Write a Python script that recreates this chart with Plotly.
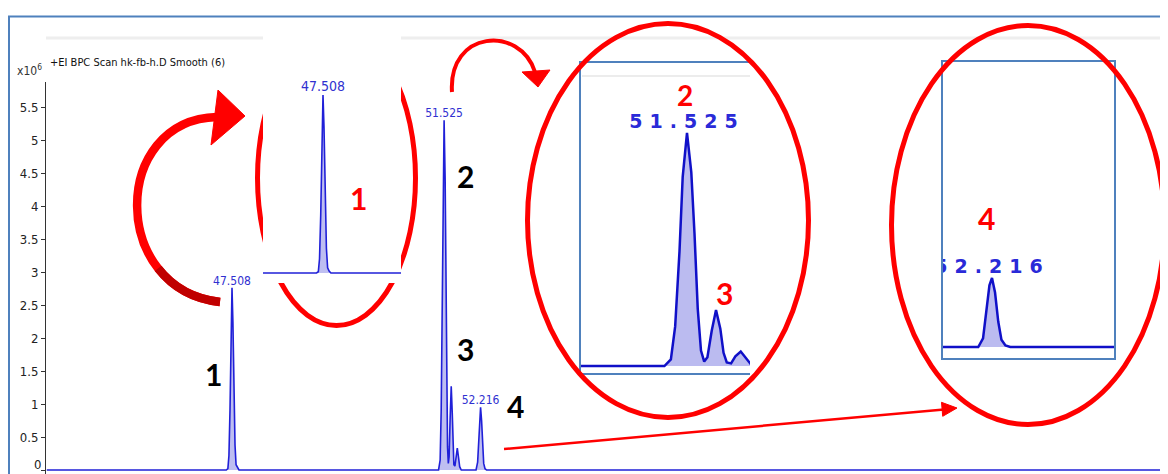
import plotly.graph_objects as go

# ---------------- data ----------------
rt_min = [44.00, 47.40, 47.43, 47.45, 47.47, 47.49, 47.508, 47.525, 47.545, 47.565, 47.585, 47.61, 47.64,
          51.42, 51.45, 51.47, 51.49, 51.505, 51.525, 51.545, 51.56, 51.575, 51.59, 51.605, 51.62, 51.64,
          51.66, 51.68, 51.695, 51.71, 51.73, 51.75, 51.775, 51.80, 51.82, 51.85,
          52.13, 52.16, 52.18, 52.20, 52.216, 52.235, 52.255, 52.275, 52.30, 52.33, 65.30]
abundance_e6 = [0.0, 0.0, 0.02, 0.22, 0.90, 2.05, 2.76, 2.25, 1.15, 0.38, 0.08, 0.03, 0.0,
                0.0, 0.15, 0.90, 2.60, 4.30, 5.30, 4.40, 3.00, 1.30, 0.35, 0.10, 0.20, 0.80,
                1.27, 0.85, 0.30, 0.08, 0.06, 0.22, 0.33, 0.18, 0.05, 0.0,
                0.0, 0.12, 0.45, 0.85, 0.95, 0.75, 0.35, 0.10, 0.02, 0.0, 0.0]

peak_rt = [47.508, 51.525, 52.216]
peak_height = [2.76, 5.30, 0.95]
peak_text = ["47.508", "51.525", "52.216"]

y_ticks = [0, 0.5, 1, 1.5, 2, 2.5, 3, 3.5, 4, 4.5, 5, 5.5]
y_tick_text = ["0", "0.5", "1", "1.5", "2", "2.5", "3", "3.5", "4", "4.5", "5", "5.5"]

peak_numbers = ["1", "2", "3", "4"]
title_text = "+EI BPC Scan hk-fb-h.D Smooth (6)"
y_unit_text = "x10<sup>6</sup>"

# ---------------- layout helpers (screen pixel -> paper) ----------------
# the page body has an 8 px margin, so the figure starts at screen (8, 8)
OFF = 8
W, H = 1160, 466
def px(x):
    return (x - OFF) / W
def py(y):
    return 1 - (y - OFF) / H
def pt(x, y):
    return f"{px(x):.5f},{py(y):.5f}"

NARROW = "Liberation Sans Narrow, DejaVu Sans Condensed, Arial Narrow, sans-serif"
BOLD = "Lato, Open Sans, Liberation Sans, sans-serif"
RED = "#ff0000"
FRAME = "#4f81bd"
LINE_BLUE = "#2020d8"
FILL_BLUE = "rgba(110,110,225,0.45)"

fig = go.Figure()

# main chromatogram
fig.add_trace(go.Scatter(x=rt_min, y=abundance_e6, mode="lines", fill="tozeroy",
                         line=dict(color=LINE_BLUE, width=1.6), fillcolor=FILL_BLUE,
                         xaxis="x", yaxis="y", hoverinfo="skip", showlegend=False))
fig.add_trace(go.Scatter(x=peak_rt, y=peak_height, mode="text", text=peak_text,
                         textposition="top center", cliponaxis=True,
                         textfont=dict(family=NARROW, size=12, color="#3030d0"),
                         xaxis="x", yaxis="y", hoverinfo="skip", showlegend=False))

# inset 1 (peak 1)
fig.add_trace(go.Scatter(x=rt_min, y=abundance_e6, mode="lines", fill="tozeroy",
                         line=dict(color=LINE_BLUE, width=1.6), fillcolor=FILL_BLUE,
                         xaxis="x2", yaxis="y2", hoverinfo="skip", showlegend=False))
fig.add_trace(go.Scatter(x=peak_rt[:1], y=peak_height[:1], mode="text", text=peak_text[:1],
                         textposition="top center", cliponaxis=True,
                         textfont=dict(family=NARROW, size=14, color="#3030d0"),
                         xaxis="x2", yaxis="y2", hoverinfo="skip", showlegend=False))

# inset 2 (peaks 2,3)
fig.add_trace(go.Scatter(x=rt_min, y=abundance_e6, mode="lines", fill="tozeroy",
                         line=dict(color="#1010c8", width=2.5),
                         fillcolor="rgba(120,120,225,0.5)",
                         xaxis="x3", yaxis="y3", hoverinfo="skip", showlegend=False))
fig.add_trace(go.Scatter(x=peak_rt[1:2], y=peak_height[1:2], mode="text",
                         text=['<span style="letter-spacing:7px">' + peak_text[1] + '</span>'],
                         textposition="top center", cliponaxis=True,
                         textfont=dict(family="DejaVu Sans, sans-serif", size=19, color="#2a2ad8",
                                       weight="bold"),
                         xaxis="x3", yaxis="y3", hoverinfo="skip", showlegend=False))

# inset 4 (peak 4)
fig.add_trace(go.Scatter(x=rt_min, y=abundance_e6, mode="lines", fill="tozeroy",
                         line=dict(color="#1010c8", width=2.5),
                         fillcolor="rgba(120,120,225,0.5)",
                         xaxis="x4", yaxis="y4", hoverinfo="skip", showlegend=False))
fig.add_trace(go.Scatter(x=peak_rt[2:3], y=peak_height[2:3], mode="text",
                         text=['<span style="letter-spacing:7px">' + peak_text[2] + '</span>'],
                         textposition="top center", cliponaxis=True,
                         textfont=dict(family="DejaVu Sans, sans-serif", size=19, color="#2a2ad8",
                                       weight="bold"),
                         xaxis="x4", yaxis="y4", hoverinfo="skip", showlegend=False))

# ---------------- axes ----------------
def hidden(**kw):
    d = dict(visible=False, fixedrange=True, showgrid=False, zeroline=False)
    d.update(kw)
    return d

# main: 47.508 at px 232, 52.8 px/min; value 0 at py 470, 66 px per unit
main_l, main_r, main_t, main_b = 46, 1168, 82, 474
x_scale = 52.8
y_scale = 66.0
fig.update_layout(
    xaxis=hidden(domain=[px(main_l), px(main_r)],
                 range=[47.508 - (232 - main_l) / x_scale, 47.508 + (main_r - 232) / x_scale]),
    yaxis=dict(domain=[py(main_b), py(main_t)],
               range=[(470 - main_b) / y_scale, (470 - main_t) / y_scale],
               tickvals=y_ticks, ticktext=y_tick_text, ticks="outside", ticklen=4,
               tickcolor="#333333", showline=True, linecolor="#333333", linewidth=1,
               showgrid=False, zeroline=False, fixedrange=True,
               tickfont=dict(family=NARROW, size=13, color="#222222")),
)

# inset 1: box 263..401 x 38..283; 47.508 at 323, 60 px/min; 0 at 273, 64.5 px/unit
i1 = (263, 38, 401, 283)
fig.update_layout(
    xaxis2=hidden(domain=[px(i1[0]), px(i1[2])], anchor="y2",
                  range=[47.508 - (323 - i1[0]) / 60.0, 47.508 + (i1[2] - 323) / 60.0]),
    yaxis2=hidden(domain=[py(i1[3]), py(i1[1])], anchor="x2",
                  range=[(273 - i1[3]) / 64.5, (273 - i1[1]) / 64.5]),
)
# inset 2: box 580..750 x 62..374; 51.525 at 687, 215 px/min; 0 at 366, 44 px/unit
i2 = (581, 63, 750, 373)
fig.update_layout(
    xaxis3=hidden(domain=[px(i2[0]), px(i2[2])], anchor="y3",
                  range=[51.525 - (687 - i2[0]) / 215.0, 51.525 + (i2[2] - 687) / 215.0]),
    yaxis3=hidden(domain=[py(i2[3]), py(i2[1])], anchor="x3",
                  range=[(366 - i2[3]) / 44.0, (366 - i2[1]) / 44.0]),
)
# inset 4: box 942..1115 x 61..359; 52.216 at 992, 160 px/min; 0 at 347, 72.6 px/unit
i4 = (943, 62, 1114, 358)
fig.update_layout(
    xaxis4=hidden(domain=[px(i4[0]), px(i4[2])], anchor="y4",
                  range=[52.216 - (992 - i4[0]) / 160.0, 52.216 + (i4[2] - 992) / 160.0]),
    yaxis4=hidden(domain=[py(i4[3]), py(i4[1])], anchor="x4",
                  range=[(347 - i4[3]) / 72.6, (347 - i4[1]) / 72.6]),
)

# ---------------- shapes ----------------
shapes = []
def P(d, **kw):
    s = dict(type="path", path=d, xref="paper", yref="paper")
    s.update(kw)
    shapes.append(s)

# below traces: grey top band, ellipse 1, inset-1 white backing
P(f"M {pt(46,38)} L {pt(1168,38)}", line=dict(color="#eeeeee", width=3), layer="below")
shapes.append(dict(type="circle", xref="paper", yref="paper", layer="below",
                   x0=px(257.5), x1=px(415.5), y0=py(30.5), y1=py(325.5),
                   line=dict(color=RED, width=5)))
shapes.append(dict(type="rect", xref="paper", yref="paper", layer="below",
                   x0=px(263), x1=px(401), y0=py(20), y1=py(283),
                   fillcolor="white", line=dict(width=0)))

# outer frame
shapes.append(dict(type="rect", xref="paper", yref="paper", layer="above",
                   x0=px(9), x1=px(1190), y0=py(16.5), y1=py(500),
                   line=dict(color=FRAME, width=2)))

# inset borders
P(f"M {pt(750,62)} L {pt(580,62)} L {pt(580,374)} L {pt(750,374)}",
  line=dict(color=FRAME, width=2), layer="above")
P(f"M {pt(582,76)} L {pt(750,76)}", line=dict(color="#ececec", width=2), layer="above")
shapes.append(dict(type="rect", xref="paper", yref="paper", layer="above",
                   x0=px(942), x1=px(1115), y0=py(61), y1=py(359),
                   line=dict(color=FRAME, width=2)))

# ellipses 2 and 4
shapes.append(dict(type="circle", xref="paper", yref="paper", layer="above",
                   x0=px(527.5), x1=px(808.5), y0=py(23.5), y1=py(417.5),
                   line=dict(color=RED, width=5)))
shapes.append(dict(type="circle", xref="paper", yref="paper", layer="above",
                   x0=px(891.5), x1=px(1164.5), y0=py(25.5), y1=py(424.5),
                   line=dict(color=RED, width=5)))

# big curved arrow
P(f"M {pt(220,302)} C {pt(110,290)} {pt(110,120)} {pt(217,117)}",
  line=dict(color=RED, width=8.5), layer="above")
P(f"M {pt(158.1,268.4)} C {pt(171.9,286.1)} {pt(192.5,299)} {pt(220,302)}",
  line=dict(color="#c00000", width=8.5), layer="above")
P(f"M {pt(218,90)} L {pt(245,116)} L {pt(211,145)} Z",
  fillcolor=RED, line=dict(color=RED, width=1), layer="above")

# small curved arrow
P(f"M {pt(452,92)} C {pt(448,30)} {pt(520,25)} {pt(535,72)}",
  line=dict(color=RED, width=4), layer="above")
P(f"M {pt(522,72)} L {pt(550,70)} L {pt(538,87)} Z",
  fillcolor=RED, line=dict(color=RED, width=1), layer="above")

# long thin arrow
P(f"M {pt(504,449)} L {pt(944,409.5)}", line=dict(color=RED, width=2.5), layer="above")
P(f"M {pt(941.5,402.3)} L {pt(957,408)} L {pt(942.7,416.3)} Z",
  fillcolor=RED, line=dict(color=RED, width=1), layer="above")

# ---------------- annotations ----------------
ann = []
def A(text, x, y, size, color, family, weight="normal", xanchor="center", yanchor="middle"):
    ann.append(dict(text=text, x=px(x), y=py(y), xref="paper", yref="paper",
                    showarrow=False, xanchor=xanchor, yanchor=yanchor,
                    font=dict(family=family, size=size, color=color, weight=weight)))

A(title_text, 48, 62, 11, "#111111", NARROW, xanchor="left")
A(y_unit_text, 29, 70, 12, "#333333", NARROW)
# the zero tick label sits at the very bottom edge (partly cut in the source image)
A(y_tick_text[0], 43, 474, 13, "#222222", NARROW, xanchor="right", yanchor="bottom")

black_pos = [(213, 374), (465, 176), (465, 349), (515, 406)]
red_pos = [(358, 198), (685, 95), (724, 293), (986, 218)]
red_size = [30, 28, 30, 30]
for lbl, (x, y) in zip(peak_numbers, black_pos):
    A(lbl, x, y, 30, "#000000", BOLD, weight="bold")
for lbl, (x, y), s in zip(peak_numbers, red_pos, red_size):
    A(lbl, x, y, s, RED, BOLD, weight="bold")

fig.update_layout(
    width=W, height=H,
    margin=dict(l=0, r=0, t=0, b=0),
    paper_bgcolor="white", plot_bgcolor="rgba(0,0,0,0)",
    showlegend=False,
    shapes=shapes, annotations=ann,
)

fig.write_html("out.html")
